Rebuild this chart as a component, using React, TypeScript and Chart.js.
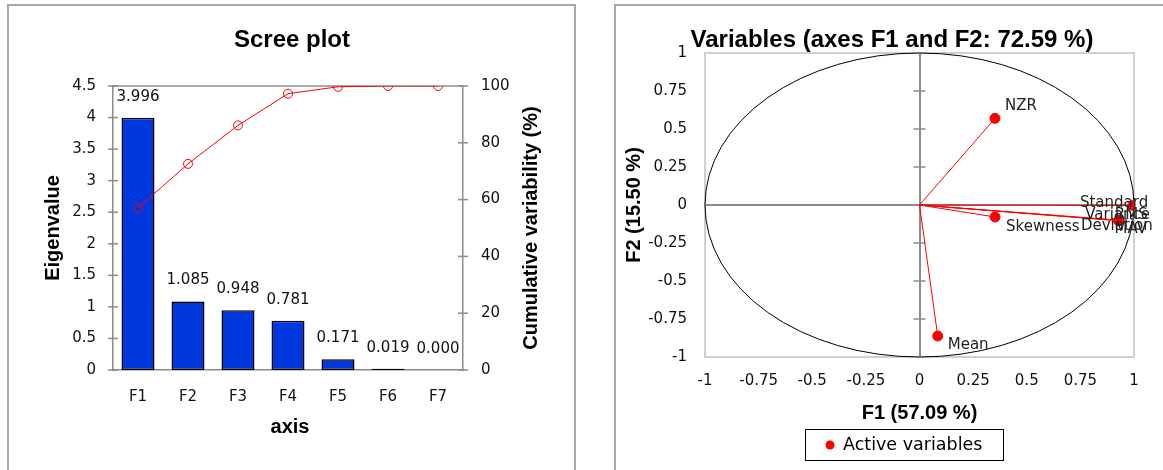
import React, { useEffect, useRef } from "react";
import { Chart, registerables } from "chart.js";

Chart.register(...registerables);

// ---------------- data ----------------
const axisLabels = ["F1", "F2", "F3", "F4", "F5", "F6", "F7"];
const eigenvalues = [3.996, 1.085, 0.948, 0.781, 0.171, 0.019, 0.0];
const cumulativeVariability = [57.09, 72.59, 86.13, 97.29, 99.73, 100, 100];

const variableNames = ["Mean", "NZR", "Skewness", "Standard Deviation", "Variance", "RMS", "MAV"];
const f1Loadings = [0.085, 0.352, 0.352, 0.995, 0.931, 0.929, 0.928];
const f2Loadings = [-0.862, 0.57, -0.079, -0.003, -0.1, -0.102, -0.104];

const screeTitle = "Scree plot";
const eigenAxisTitle = "Eigenvalue";
const cumulAxisTitle = "Cumulative variability (%)";
const screeXTitle = "axis";
const corrTitle = "Variables (axes F1 and F2: 72.59 %)";
const corrXTitle = "F1 (57.09 %)";
const corrYTitle = "F2 (15.50 %)";
const legendLabel = "Active variables";

// ---------------- styles / placement ----------------
const TICK_FAMILY = "'DejaVu Sans', sans-serif";
const TITLE_FAMILY = "'Liberation Sans', Arial, sans-serif";
const TICK_FONT = { family: TICK_FAMILY, size: 15 };
const TEXT_COLOR = "#111111";
const AXIS_GRAY = "#8c8c8c";
const BAR_BLUE = "#0038e0";
const RED = "#ff0000";

// label offsets (px) from each point, one entry per text line
const labelOffsets: Record<string, [number, number][]> = {
  Mean: [[10, 9]],
  NZR: [[10, -12]],
  Skewness: [[11, 10]],
  "Standard Deviation": [[-53, -2], [-52, 21]],
  Variance: [[-34, -5]],
  RMS: [[-4, -5]],
  MAV: [[-4, 8]],
};

function drawText(
  ctx: CanvasRenderingContext2D,
  text: string,
  x: number,
  y: number,
  font: string,
  color: string,
  align: CanvasTextAlign = "center",
  rotate = 0
) {
  ctx.save();
  ctx.font = font;
  ctx.fillStyle = color;
  ctx.textAlign = align;
  ctx.textBaseline = "middle";
  ctx.translate(x, y);
  if (rotate) ctx.rotate(rotate);
  ctx.fillText(text, 0, 0);
  ctx.restore();
}

function line(ctx: CanvasRenderingContext2D, x1: number, y1: number, x2: number, y2: number) {
  ctx.beginPath();
  ctx.moveTo(x1, y1);
  ctx.lineTo(x2, y2);
  ctx.stroke();
}

const numLabel = (v: any) => String(+Number(v).toFixed(2));

// ---------------- scree plot ----------------
const SCREE_W = 590;
const SCREE_H = 470;

const screeDecor = {
  id: "screeDecor",
  beforeDatasetsDraw(chart: any) {
    const { ctx, chartArea: a, scales } = chart;
    ctx.save();
    ctx.strokeStyle = AXIS_GRAY;
    ctx.lineWidth = 1.5;
    line(ctx, a.left, a.top, a.right, a.top);
    for (const t of scales.y.ticks) {
      const py = scales.y.getPixelForValue(t.value);
      line(ctx, a.left - 5, py, a.left + 5, py);
    }
    for (const t of scales.y1.ticks) {
      const py = scales.y1.getPixelForValue(t.value);
      line(ctx, a.right - 5, py, a.right + 5, py);
    }
    ctx.restore();
  },
  afterDraw(chart: any) {
    const { ctx, chartArea: a } = chart;
    const tickFont = `${TICK_FONT.size}px ${TICK_FAMILY}`;
    const barIndex = chart.data.datasets.findIndex((d: any) => d.type === "bar");
    const meta = chart.getDatasetMeta(barIndex);
    meta.data.forEach((el: any, i: number) => {
      const v = chart.data.datasets[barIndex].data[i] as number;
      drawText(ctx, v.toFixed(3), el.x, el.y - 21, tickFont, TEXT_COLOR);
    });
    const midY = (a.top + a.bottom) / 2;
    drawText(ctx, screeTitle, 292, 40, `bold 24px ${TITLE_FAMILY}`, "#000");
    drawText(ctx, eigenAxisTitle, 53, midY, `bold 20px ${TITLE_FAMILY}`, "#000", "center", -Math.PI / 2);
    drawText(ctx, cumulAxisTitle, 531, midY, `bold 20px ${TITLE_FAMILY}`, "#000", "center", -Math.PI / 2);
    drawText(ctx, screeXTitle, 290, 427, `bold 20px ${TITLE_FAMILY}`, "#000");
  },
};

function ScreePlot() {
  const ref = useRef<HTMLCanvasElement | null>(null);
  useEffect(() => {
    if (!ref.current) return;
    const chart = new Chart(ref.current, {
      type: "bar",
      data: {
        labels: axisLabels,
        datasets: [
          {
            type: "line",
            label: "Cumulative variability (%)",
            data: cumulativeVariability,
            yAxisID: "y1",
            borderColor: RED,
            borderWidth: 1,
            pointRadius: 4.5,
            pointBorderWidth: 1,
            pointBorderColor: RED,
            pointBackgroundColor: "rgba(0,0,0,0)",
            fill: false,
            tension: 0,
            order: 0,
          } as any,
          {
            type: "bar",
            label: "Eigenvalue",
            data: eigenvalues,
            yAxisID: "y",
            backgroundColor: BAR_BLUE,
            borderColor: "#000",
            borderWidth: 1.5,
            borderSkipped: false,
            barPercentage: 0.66,
            categoryPercentage: 1,
            order: 1,
          } as any,
        ],
      },
      options: {
        responsive: false,
        animation: false,
        events: [],
        layout: { padding: { top: 86, left: 0, right: 0, bottom: 0 } },
        plugins: { legend: { display: false }, tooltip: { enabled: false }, title: { display: false } },
        scales: {
          x: {
            grid: { display: false, drawTicks: false },
            border: { display: true, color: AXIS_GRAY, width: 1.5 },
            ticks: { font: TICK_FONT, color: TEXT_COLOR, padding: 18 },
            afterFit: (s: any) => {
              s.height = SCREE_H - 370;
            },
          },
          y: {
            position: "left",
            min: 0,
            max: 4.5,
            grid: { display: false, drawTicks: false },
            border: { display: true, color: AXIS_GRAY, width: 1.5 },
            ticks: { stepSize: 0.5, font: TICK_FONT, color: TEXT_COLOR, padding: 17, callback: numLabel },
            afterFit: (s: any) => {
              s.width = 113;
            },
          },
          y1: {
            position: "right",
            min: 0,
            max: 100,
            grid: { display: false, drawTicks: false },
            border: { display: true, color: AXIS_GRAY, width: 1.5 },
            ticks: { stepSize: 20, font: TICK_FONT, color: TEXT_COLOR, padding: 18, callback: numLabel },
            afterFit: (s: any) => {
              s.width = SCREE_W - 463;
            },
          },
        },
      } as any,
      plugins: [screeDecor],
    });
    return () => chart.destroy();
  }, []);
  return (
    <canvas
      ref={ref}
      width={SCREE_W}
      height={SCREE_H}
      style={{ position: "absolute", left: 0, top: 0 }}
    />
  );
}

// ---------------- correlation circle ----------------
const CORR_LEFT = 600;
const CORR_W = 563;
const CORR_H = 470;

const corrDecor = {
  id: "corrDecor",
  beforeDatasetsDraw(chart: any) {
    const { ctx, chartArea: a, scales } = chart;
    const cx = scales.x.getPixelForValue(0);
    const cy = scales.y.getPixelForValue(0);
    ctx.save();
    ctx.strokeStyle = "#d0d0d0";
    ctx.lineWidth = 2;
    ctx.strokeRect(a.left, a.top, a.right - a.left, a.bottom - a.top);
    ctx.strokeStyle = AXIS_GRAY;
    ctx.lineWidth = 1.5;
    for (const t of scales.y.ticks) {
      if (Math.abs(t.value) < 1e-9 || Math.abs(Math.abs(t.value) - 1) < 1e-9) continue;
      const py = scales.y.getPixelForValue(t.value);
      line(ctx, cx - 6, py, cx + 6, py);
    }
    const rx = scales.x.getPixelForValue(1) - cx;
    const ry = cy - scales.y.getPixelForValue(1);
    ctx.strokeStyle = "#000";
    ctx.lineWidth = 1;
    ctx.beginPath();
    ctx.ellipse(cx, cy, rx, ry, 0, 0, Math.PI * 2);
    ctx.stroke();
    ctx.restore();
  },
  afterDatasetsDraw(chart: any) {
    const { ctx } = chart;
    const meta = chart.getDatasetMeta(0);
    const font = `${TICK_FONT.size}px ${TICK_FAMILY}`;
    meta.data.forEach((el: any, i: number) => {
      const name = variableNames[i];
      const offs = labelOffsets[name] || [[10, -10]];
      const lines = offs.length > 1 ? name.split(" ") : [name];
      lines.forEach((txt, k) => {
        const [dx, dy] = offs[k] || offs[0];
        drawText(ctx, txt, el.x + dx, el.y + dy, font, "#222", "left");
      });
    });
  },
  afterDraw(chart: any) {
    const { ctx, chartArea: a } = chart;
    const midX = (a.left + a.right) / 2;
    const midY = (a.top + a.bottom) / 2;
    drawText(ctx, corrTitle, 292, 40, `bold 24px ${TITLE_FAMILY}`, "#000");
    drawText(ctx, corrXTitle, midX, 413, `bold 20px ${TITLE_FAMILY}`, "#000");
    drawText(ctx, corrYTitle, 34, midY, `bold 20px ${TITLE_FAMILY}`, "#000", "center", -Math.PI / 2);
    ctx.save();
    ctx.strokeStyle = "#000";
    ctx.lineWidth = 1;
    ctx.strokeRect(205.5, 429.5, 198, 31);
    ctx.fillStyle = RED;
    ctx.beginPath();
    ctx.arc(230, 445, 4.5, 0, Math.PI * 2);
    ctx.fill();
    ctx.restore();
    const label = chart.data.datasets[0].label || legendLabel;
    drawText(ctx, label, 243, 445, `17.5px ${TICK_FAMILY}`, "#000", "left");
  },
};

function CorrelationCircle() {
  const ref = useRef<HTMLCanvasElement | null>(null);
  useEffect(() => {
    if (!ref.current) return;
    const points = variableNames.map((_, i) => ({ x: f1Loadings[i], y: f2Loadings[i] }));
    const vectors = points.map((p, i) => ({
      label: `vector ${variableNames[i]}`,
      data: [{ x: 0, y: 0 }, p],
      showLine: true,
      borderColor: RED,
      borderWidth: 1,
      pointRadius: 0,
      order: 1,
    }));
    const zeroGrid = (ctx: any) =>
      ctx.tick && Math.abs(ctx.tick.value) < 1e-9 ? AXIS_GRAY : "rgba(0,0,0,0)";
    const chart = new Chart(ref.current, {
      type: "scatter",
      data: {
        datasets: [
          {
            label: legendLabel,
            data: points,
            showLine: false,
            pointRadius: 5,
            pointBackgroundColor: RED,
            pointBorderColor: RED,
            borderColor: RED,
            backgroundColor: RED,
            order: 0,
          },
          ...vectors,
        ] as any,
      },
      options: {
        responsive: false,
        animation: false,
        events: [],
        layout: { padding: { top: 53, left: 0, right: 29, bottom: 0 } },
        plugins: { legend: { display: false }, tooltip: { enabled: false }, title: { display: false } },
        scales: {
          x: {
            type: "linear",
            min: -1,
            max: 1,
            grid: { display: true, drawTicks: false, color: zeroGrid, lineWidth: 2 },
            border: { display: false },
            ticks: { stepSize: 0.25, font: TICK_FONT, color: TEXT_COLOR, padding: 15, callback: numLabel },
            afterFit: (s: any) => {
              s.height = CORR_H - 357;
            },
          },
          y: {
            type: "linear",
            min: -1,
            max: 1,
            grid: { display: true, drawTicks: false, color: zeroGrid, lineWidth: 2 },
            border: { display: false },
            ticks: { stepSize: 0.25, font: TICK_FONT, color: TEXT_COLOR, padding: 18, callback: numLabel },
            afterFit: (s: any) => {
              s.width = 105;
            },
          },
        },
      } as any,
      plugins: [corrDecor],
    });
    return () => chart.destroy();
  }, []);
  return (
    <canvas
      ref={ref}
      width={CORR_W}
      height={CORR_H}
      style={{ position: "absolute", left: CORR_LEFT, top: 0 }}
    />
  );
}

export default function App() {
  return (
    <div
      style={{
        position: "absolute",
        left: 0,
        top: 0,
        width: 1163,
        height: 470,
        overflow: "hidden",
        background: "#fff",
      }}
    >
      <div
        style={{
          position: "absolute",
          left: 7,
          top: 4,
          width: 569,
          height: 500,
          border: "2px solid #a8a8a8",
          boxSizing: "border-box",
        }}
      />
      <div
        style={{
          position: "absolute",
          left: 614,
          top: 4,
          width: 600,
          height: 500,
          border: "2px solid #a8a8a8",
          boxSizing: "border-box",
        }}
      />
      <ScreePlot />
      <CorrelationCircle />
    </div>
  );
}
